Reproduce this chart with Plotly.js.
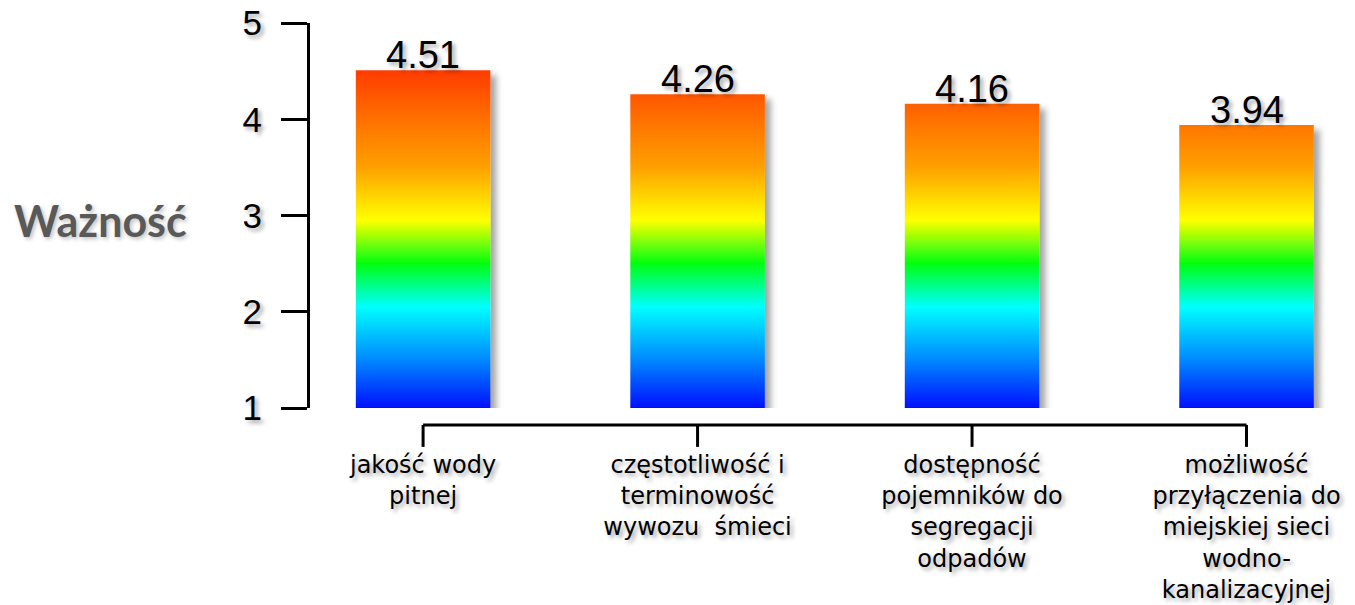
<!DOCTYPE html>
<html>
<head>
<meta charset="utf-8">
<script src="https://cdn.plot.ly/plotly-3.0.1.min.js"></script>
<style>
  html, body { margin: 0; padding: 0; background: #ffffff; }
  #chart { width: 1355px; height: 605px; }
</style>
</head>
<body>
<div id="chart"></div>
<script>
// ---- data ----
const categories = [
  'jakość wody<br>pitnej',
  'częstotliwość i<br>terminowość<br>wywozu  śmieci',
  'dostępność<br>pojemników do<br>segregacji<br>odpadów',
  'możliwość<br>przyłączenia do<br>miejskiej sieci<br>wodno-<br>kanalizacyjnej'
];
const values = [4.51, 4.26, 4.16, 3.94];
const yTickVals = [1, 2, 3, 4, 5];
const yTitle = 'Ważność';

// ---- style ----
const yMin = 1, yMax = 5;
const xRange = [-0.412, 3.377];
const gradStops = [
  [1.0, '#0010ff'], [1.5, '#0088ff'], [2.05, '#00ffff'], [2.5, '#00ff10'],
  [2.95, '#ffff00'], [3.5, '#ffa000'], [4.0, '#ff7000'], [4.5, '#ff3c00'], [5.0, '#ff1000']
];
const textShadow = '3px 3px 4px rgba(0,0,0,0.35)';

const trace = {
  type: 'bar',
  x: categories,
  y: values,
  width: 0.49,
  marker: { color: '#ff7000', line: { width: 0 } },
  hoverinfo: 'x+y'
};

// x axis drawn as bracket below the plot: positions derived from category index and axis range
function catFrac(i) { return (i - xRange[0]) / (xRange[1] - xRange[0]); }
const axisLineY = -0.044;  // paper units below plot
const tickBottomY = -0.101;
const shapes = [{
  type: 'line', xref: 'x domain', yref: 'paper',
  x0: catFrac(0), x1: catFrac(categories.length - 1), y0: axisLineY, y1: axisLineY,
  line: { color: '#000000', width: 3 }
}];
categories.forEach(function (c, i) {
  shapes.push({
    type: 'line', xref: 'x domain', yref: 'paper',
    x0: catFrac(i), x1: catFrac(i), y0: axisLineY, y1: tickBottomY,
    line: { color: '#000000', width: 3 }
  });
});

const annotations = values.map(function (v, i) {
  return {
    x: categories[i], y: v, xref: 'x', yref: 'y',
    text: v.toFixed(2),
    showarrow: false,
    xanchor: 'center', yanchor: 'bottom',
    yshift: -8,
    font: { family: 'Liberation Sans, Arial, sans-serif', size: 38, color: '#000000', shadow: textShadow }
  };
});
annotations.push({
  text: yTitle,
  xref: 'paper', yref: 'paper',
  x: -0.201, y: 0.488,
  xanchor: 'center', yanchor: 'middle',
  showarrow: false,
  font: { family: 'Lato, Open Sans, sans-serif', size: 43, weight: 'bold', color: '#595959', shadow: '2px 2px 4px rgba(0,0,0,0.25)' }
});

const layout = {
  width: 1355,
  height: 605,
  margin: { l: 310, r: 5, t: 23, b: 197 },
  paper_bgcolor: '#ffffff',
  plot_bgcolor: '#ffffff',
  showlegend: false,
  xaxis: {
    type: 'category',
    range: xRange,
    showline: false,
    showgrid: false,
    zeroline: false,
    ticks: '',
    tickangle: 0,
    ticklabelstandoff: 40,
    tickfont: { family: 'DejaVu Sans, sans-serif', size: 24, color: '#000000', shadow: textShadow }
  },
  yaxis: {
    range: [yMin, yMax],
    tickvals: yTickVals,
    ticktext: yTickVals.map(String),
    showline: true,
    linecolor: '#000000',
    linewidth: 3,
    ticks: 'outside',
    ticklen: 26,
    tickwidth: 3,
    tickcolor: '#000000',
    showgrid: false,
    zeroline: false,
    ticklabelstandoff: 12,
    tickfont: { family: 'Liberation Sans, Arial, sans-serif', size: 35, color: '#000000', shadow: textShadow }
  },
  shapes: shapes,
  annotations: annotations
};

Plotly.newPlot('chart', [trace], layout, { displayModeBar: false, staticPlot: true }).then(function (gd) {
  const ya = gd._fullLayout.yaxis;
  const svgNS = 'http://www.w3.org/2000/svg';
  const defs = gd.querySelector('svg.main-svg defs');

  const grad = document.createElementNS(svgNS, 'linearGradient');
  grad.setAttribute('id', 'barGrad');
  grad.setAttribute('gradientUnits', 'userSpaceOnUse');
  grad.setAttribute('x1', 0); grad.setAttribute('x2', 0);
  grad.setAttribute('y1', ya.l2p(yMin)); grad.setAttribute('y2', ya.l2p(yMax));
  gradStops.forEach(function (s) {
    const st = document.createElementNS(svgNS, 'stop');
    st.setAttribute('offset', ((s[0] - yMin) / (yMax - yMin)).toFixed(4));
    st.setAttribute('stop-color', s[1]);
    grad.appendChild(st);
  });
  defs.appendChild(grad);

  const filt = document.createElementNS(svgNS, 'filter');
  filt.setAttribute('id', 'dropShadow');
  filt.setAttribute('x', '-20%'); filt.setAttribute('y', '-20%');
  filt.setAttribute('width', '140%'); filt.setAttribute('height', '140%');
  filt.setAttribute('filterUnits', 'objectBoundingBox');
  const ds = document.createElementNS(svgNS, 'feDropShadow');
  ds.setAttribute('dx', 6); ds.setAttribute('dy', 5);
  ds.setAttribute('stdDeviation', 3);
  ds.setAttribute('flood-color', '#000000');
  ds.setAttribute('flood-opacity', 0.35);
  filt.appendChild(ds);
  defs.appendChild(filt);

  gd.querySelectorAll('.barlayer .point path').forEach(function (p) {
    p.style.fill = 'url(#barGrad)';
    p.setAttribute('filter', 'url(#dropShadow)');
  });
});
</script>
</body>
</html>
